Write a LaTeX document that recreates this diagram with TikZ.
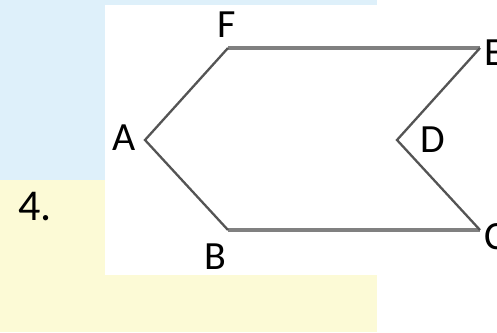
\documentclass[tikz,border=0pt]{standalone}
\usepackage{fontspec}
\setmainfont{Carlito}
\usepackage{tikz}
\definecolor{skyblue}{rgb}{0.87, 0.94, 0.98}
\definecolor{paleyellow}{rgb}{0.99, 0.98, 0.84}
\definecolor{linegray}{rgb}{0.5, 0.5, 0.5}
\definecolor{edgegray}{rgb}{0.33, 0.33, 0.33}
\tikzset{lbl/.style={font=\fontsize{40}{40}\selectfont, inner sep=0pt}}

\begin{document}
\begin{tikzpicture}[x=1pt, y=-1pt]
			\useasboundingbox (0,0) rectangle (497,332);
			\fill [color=skyblue] (0,0) rectangle (497,180);
			\fill [color=paleyellow] (0,180) rectangle (497,332);
			\fill [color=white] (377,0) rectangle (497,332);
			\fill [color=white] (105,5) rectangle (497,275);
			\coordinate (A) at (145,140);
			\coordinate (B) at (228,230);
			\coordinate (C) at (480,230);
			\coordinate (D) at (397,140);
			\coordinate (E) at (480,48);
			\coordinate (F) at (228,48);
			\draw [color=linegray, line width=4.8pt] (F) -- (E);
			\draw [color=linegray, line width=4.8pt] (B) -- (C);
			\draw [color=edgegray, line width=2.3pt] (F) -- (A) -- (B);
			\draw [color=edgegray, line width=2.3pt] (E) -- (D) -- (C);
			\node [lbl] (lA) at (124,138) {A};
			\node [lbl] (lB) at (215,257) {B};
			\node [lbl, anchor=west] (lC) at (484,237) {C};
			\node [lbl] (lD) at (433,140) {D};
			\node [lbl, anchor=west] (lE) at (484,53) {E};
			\node [lbl] (lF) at (227,25) {F};
			\node [font=\fontsize{44}{44}\selectfont, inner sep=0pt] (num) at (35,207) {4.};
		\end{tikzpicture}
\end{document}
